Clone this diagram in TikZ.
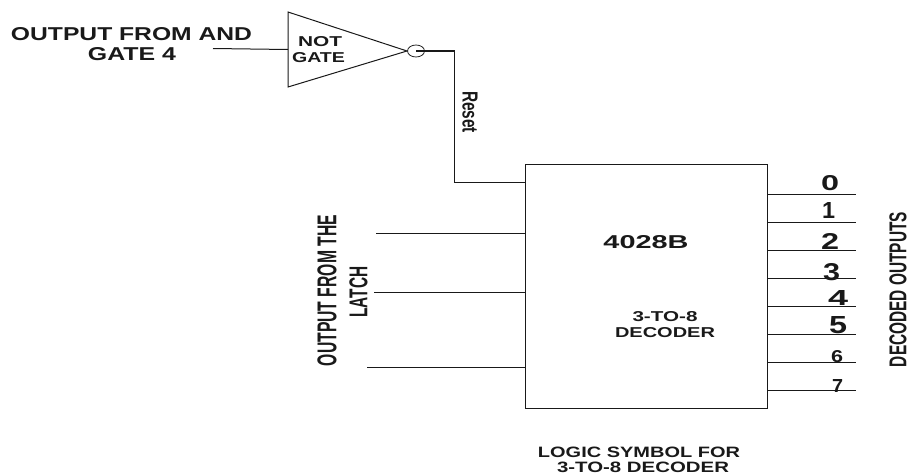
\documentclass[tikz,border=0pt]{standalone}
\usepackage{graphicx}
\usepackage{fontspec}
\setmainfont{Liberation Sans}
\usetikzlibrary{shapes.geometric}
\newcommand{\fitb}[3]{\resizebox{#1pt}{#2pt}{\textbf{#3}}}
\tikzset{
  wire/.style={line width=1pt,black!90},
  lbl/.style={inner sep=0pt,outer sep=0pt,anchor=center,black!90},
  gatebubble/.style={ellipse,draw,line width=0.8pt,black!85,minimum width=17pt,minimum height=12pt,inner sep=0pt},
  chip/.style={draw,line width=0.9pt,black!90,minimum width=242pt,minimum height=244pt,inner sep=0pt},
}
\begin{document}
\begin{tikzpicture}[x=1pt,y=-1pt]
\useasboundingbox (0,0) rectangle (910,474);
% NOT gate
\coordinate (ta) at (288,12);
\coordinate (tb) at (288,87);
\coordinate (tip) at (407,51);
\coordinate (nin) at (288,49.5);
\coordinate (src) at (213,48.5);
\draw[wire] (ta) -- (tip) -- (tb) -- cycle;
\node[gatebubble] (bub) at (416,51) {};
\node[chip] (dec) at (646,286) {};
\draw[wire] (src) -- (nin);
\coordinate (rA) at (454.5,51);
\coordinate (rB) at (454.5,182.5);
\draw[wire,line width=1.3pt] (bub.center) -- (rA) -- (rB) -- (dec.west |- rB);
% inputs
\foreach \n/\xs/\yy in {a/376/233,b/374/292.5,c/367/367.5}{
  \coordinate (in\n) at (\xs,\yy);
  \draw[wire] (in\n) -- (dec.west |- in\n);
}
% outputs
\foreach \n/\yy in {0/194.5,1/222.5,2/250.5,3/278.5,4/306.5,5/334.5,6/362.5,7/390.5}{
  \coordinate (out\n) at (856,\yy);
  \draw[wire] (dec.east |- out\n) -- (out\n);
}
% labels
\node[lbl] (t1) at (131.5,34) {\fitb{241}{13}{OUTPUT FROM AND}};
\node[lbl] (t2) at (132,54) {\fitb{88}{13}{GATE 4}};
\node[lbl] (t3) at (320,42) {\fitb{44}{10}{NOT}};
\node[lbl] (t4) at (318.5,58) {\fitb{53}{10}{GATE}};
\node[lbl,rotate=-90] (t5) at (470,112) {\fitb{42}{15}{Reset}};
\node[lbl] (t6) at (646,242) {\fitb{85}{13}{4028B}};
\node[lbl] (t7) at (665,317) {\fitb{65}{10}{3-TO-8}};
\node[lbl] (t8) at (665,333) {\fitb{100}{10}{DECODER}};
\node[lbl] (t9) at (639,452) {\fitb{202}{10.5}{LOGIC SYMBOL FOR}};
\node[lbl] (t10) at (643,467) {\fitb{172}{10.5}{3-TO-8 DECODER}};
\node[lbl,rotate=90] (t11) at (327,290.5) {\fitb{151}{19}{OUTPUT FROM THE}};
\node[lbl,rotate=90] (t12) at (358.5,292) {\fitb{51}{18}{LATCH}};
\node[lbl,rotate=90] (t13) at (898,289.5) {\fitb{155}{17}{DECODED OUTPUTS}};
\node[lbl] (d0) at (830,183.5) {\fitb{18}{15}{0}};
\node[lbl] (d1) at (828.5,210) {\fitb{13}{16}{1}};
\node[lbl] (d2) at (830,241) {\fitb{18}{16}{2}};
\node[lbl] (d3) at (831.5,272.5) {\fitb{17}{17}{3}};
\node[lbl] (d4) at (838,297.5) {\fitb{20}{15}{4}};
\node[lbl] (d5) at (838,325.5) {\fitb{18}{17}{5}};
\node[lbl] (d6) at (837,357) {\fitb{12}{12}{6}};
\node[lbl] (d7) at (837.5,385.5) {\fitb{11}{13}{7}};
\end{tikzpicture}
\end{document}
